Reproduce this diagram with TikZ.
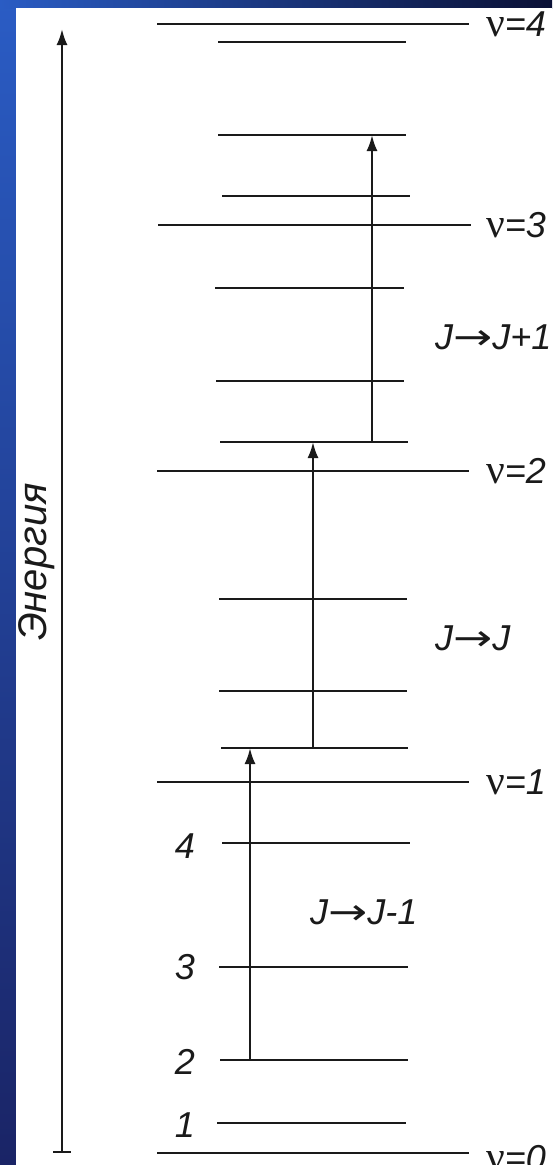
\documentclass[tikz,border=0pt]{standalone}
\usepackage{fontspec}
\setmainfont{Liberation Sans}
\newfontfamily\nufont{Liberation Serif}
\newfontfamily\arrfont{DejaVu Sans}
\usetikzlibrary{arrows.meta}
\definecolor{stripA}{HTML}{2A5CC4}
\definecolor{stripB}{HTML}{1F5496}
\definecolor{stripC}{HTML}{1A2466}
\definecolor{stripD}{HTML}{0A1035}
\definecolor{ink}{HTML}{1A1A1A}
\newcommand{\jarr}{{\upshape\arrfont\scalebox{1.3}[1]{→}}}
\newcommand{\nusym}{{\upshape\nufont\scalebox{1.15}{ν}}}
\begin{document}
\begin{tikzpicture}[x=1pt,y=-1pt,
  lvl/.style={line width=2.3pt, draw=ink},
  trans/.style={line width=2.3pt, draw=ink, -{Latex[length=16pt,width=11pt]}},
  lab/.style={font=\fontsize{36}{40}\selectfont\itshape, inner sep=0pt, text=ink},
  elab/.style={font=\fontsize{40}{44}\selectfont\itshape, inner sep=0pt, text=ink},
]
\useasboundingbox (0,0) rectangle (552,1165);
% background
\shade[top color=stripA, middle color=stripB, bottom color=stripC] (0,0) rectangle (16,1165);
\shade[left color=stripA, right color=stripD] (0,0) rectangle (552,8);
\fill[white] (16,8) rectangle (552,1165);

% vibrational levels
\foreach \n/\y/\xa/\xb in {4/24/157/469, 3/225/158/471, 2/471/157/469, 1/782/157/469, 0/1153/157/469}{
  \coordinate (vL\n) at (\xa,\y);
  \coordinate (vR\n) at (\xb,\y);
  \draw[lvl] (vL\n) -- (vR\n);
}
% rotational levels
\foreach \n/\y/\xa/\xb in {
  a/42/218/406, b/135/218/406, c/196/222/410,
  d/288/215/404, e/381/216/404, f/442/220/408,
  g/599/219/407, h/691/219/407, i/748/221/408,
  j/843/222/410, k/967/219/408, l/1060/220/408, m/1123/217/406}{
  \coordinate (rL\n) at (\xa,\y);
  \coordinate (rR\n) at (\xb,\y);
  \draw[lvl] (rL\n) -- (rR\n);
}

% energy axis
\coordinate (eb) at (62,1152);
\coordinate (et) at (62,29);
\coordinate (tl) at (53,1152);
\coordinate (tr) at (71,1152);
\draw[trans] (eb) -- (et);
\draw[lvl] (tl) -- (tr);
\node[elab, rotate=90, anchor=base] (energy) at (46,562) {Энергия};

% transitions
\coordinate (t1s) at (250,1060);
\coordinate (t1e) at (250,748);
\coordinate (t2s) at (313,748);
\coordinate (t2e) at (313,442);
\coordinate (t3s) at (372,442);
\coordinate (t3e) at (372,135);
\draw[trans] (t1s) -- (t1e);
\draw[trans] (t2s) -- (t2e);
\draw[trans] (t3s) -- (t3e);

% vibrational labels
\node[lab, anchor=west] (nu4) at (486,24) {\nusym=4};
\node[lab, anchor=west] (nu3) at (486,225) {\nusym=3};
\node[lab, anchor=west] (nu2) at (486,471) {\nusym=2};
\node[lab, anchor=west] (nu1) at (486,782) {\nusym=1};
\node[lab, anchor=west] (nu0) at (486,1158) {\nusym=0};

% transition labels
\node[lab, anchor=west] (jp) at (435,337) {J\jarr J+1};
\node[lab, anchor=west] (jj) at (435,638) {J\jarr J};
\node[lab, anchor=west] (jm) at (310,912) {J\jarr J-1};

% rotational numbers
\node[lab, anchor=east] (n4) at (195,846) {4};
\node[lab, anchor=east] (n3) at (195,967) {3};
\node[lab, anchor=east] (n2) at (195,1062) {2};
\node[lab, anchor=east] (n1) at (195,1125) {1};
\end{tikzpicture}
\end{document}
